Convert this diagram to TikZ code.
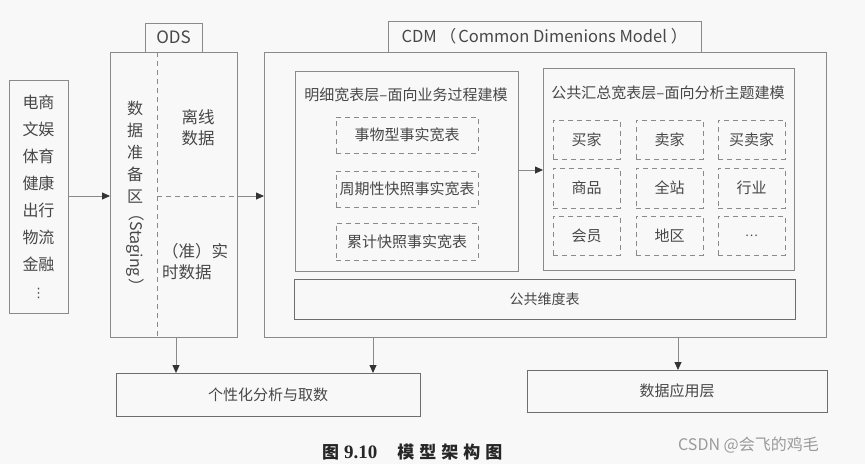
\documentclass[tikz,border=0pt]{standalone}
\usepackage{fontspec}
\setmainfont{Noto Sans CJK SC}
\newfontfamily\numserif{Liberation Serif}
\newfontfamily\dejavu{DejaVu Sans}
\usetikzlibrary{arrows.meta}
\definecolor{linec}{HTML}{8A8A8A}
\definecolor{darkline}{HTML}{6E6E6E}
\definecolor{txtc}{HTML}{474747}
\definecolor{bgc}{HTML}{F8F8F8}
\definecolor{wmc}{HTML}{9A9A9A}
\tikzset{
  box/.style={draw=linec, line width=0.8pt, rectangle, inner sep=0pt, outer sep=0pt, anchor=north west, text=txtc, font=\fontsize{15}{18}\selectfont},
  dbox/.style={box, dash pattern=on 5pt off 4pt},
  lbl/.style={text=txtc, font=\fontsize{15}{18}\selectfont, inner sep=0pt},
  biglbl/.style={text=txtc, font=\fontsize{16}{22}\selectfont, inner sep=0pt, align=center},
  arr/.style={draw=linec, line width=0.8pt, -{Triangle[length=8pt,width=7pt,color=black!80]}},
  divider/.style={draw=linec, line width=0.8pt, dash pattern=on 5pt off 4pt}
}
\begin{document}
\begin{tikzpicture}[x=1pt,y=-1pt]
\fill[bgc] (0,0) rectangle (865,464);
\useasboundingbox (0,0) rectangle (865,464);

% source box
\node[box, minimum width=59pt, minimum height=233pt, align=center, font=\fontsize{16}{27}\selectfont] (src) at (9,80)
  {电商\\文娱\\体育\\健康\\出行\\物流\\金融\\{\dejavu\fontsize{13}{27}\selectfont ⋮}};

% ODS
\node[box, minimum width=57pt, minimum height=29pt, font=\fontsize{17}{20}\selectfont] (odstab) at (145,23) {ODS};
\node[box, minimum width=127pt, minimum height=285pt] (ods) at (110,52) {};
\coordinate (divtop) at (157,52);
\coordinate (divbot) at (157,337);
\coordinate (divmid) at (157,196);
\draw[divider] (divtop) -- (divbot);
\draw[divider] (divmid) -- (divmid -| ods.east);
\node[biglbl] (stackchars) at (135,152) {数\\据\\准\\备\\区};
\node[biglbl, rotate=-90] (staging) at (135,250) {（Staging\hspace{2pt}）};
\node[biglbl, font=\fontsize{16.5}{21}\selectfont] (offline) at (198,128) {离线\\数据};
\node[biglbl, font=\fontsize{16.5}{21}\selectfont, align=left, anchor=west] (realtime) at (162,262) {（准）实\\时数据};

% CDM
\node[box, minimum width=313pt, minimum height=31pt, font=\fontsize{16.5}{20}\selectfont] (cdmtab) at (388,21)
  {CDM\hspace{3pt}（\hspace{2pt}Common Dimenions Model\hspace{4pt}）};
\node[box, minimum width=562pt, minimum height=285pt] (cdm) at (264,52) {};

% detail layer
\node[box, minimum width=223pt, minimum height=200pt] (detail) at (295,71) {};
\node[lbl] (detailtitle) at (406,95) {明细宽表层–面向业务过程建模};
\node[dbox, minimum width=142pt, minimum height=36pt] (f1) at (336,117) {事物型事实宽表};
\node[dbox, minimum width=142pt, minimum height=36pt] (f2) at (336,171) {周期性快照事实宽表};
\node[dbox, minimum width=142pt, minimum height=37pt] (f3) at (336,223) {累计快照事实宽表};

% summary layer
\node[box, minimum width=251pt, minimum height=202pt] (summary) at (543,68) {};
\node[lbl] (summarytitle) at (668,93) {公共汇总宽表层–面向分析主题建模};
\node[dbox, minimum width=67pt, minimum height=39pt] (g11) at (553,120) {买家};
\node[dbox, minimum width=67pt, minimum height=39pt] (g12) at (636,120) {卖家};
\node[dbox, minimum width=67pt, minimum height=39pt] (g13) at (718,120) {买卖家};
\node[dbox, minimum width=67pt, minimum height=40pt] (g21) at (553,168) {商品};
\node[dbox, minimum width=67pt, minimum height=40pt] (g22) at (636,168) {全站};
\node[dbox, minimum width=67pt, minimum height=40pt] (g23) at (718,168) {行业};
\node[dbox, minimum width=67pt, minimum height=39pt] (g31) at (553,216) {会员};
\node[dbox, minimum width=67pt, minimum height=39pt] (g32) at (636,216) {地区};
\node[dbox, minimum width=67pt, minimum height=39pt] (g33) at (718,216) {\fontsize{12}{14}\selectfont …};

% common dimension table
\node[box, draw=darkline, minimum width=501pt, minimum height=40pt, font=\fontsize{14}{17}\selectfont] (dim) at (294,279) {公共维度表};

% bottom boxes
\node[box, draw=darkline, minimum width=304pt, minimum height=43pt] (pers) at (116,373) {个性化分析与取数};
\node[box, draw=darkline, minimum width=300pt, minimum height=42pt] (app) at (527,370) {数据应用层};

% arrows
\coordinate (rowy) at (0,196);
\draw[arr] (src.east |- rowy) -- (ods.west |- rowy);
\draw[arr] (ods.east |- rowy) -- (cdm.west |- rowy);
\coordinate (midy) at (0,170);
\draw[arr] (detail.east |- midy) -- (summary.west |- midy);
\coordinate (c1) at (176,0);
\coordinate (c2) at (373,0);
\coordinate (c3) at (678,0);
\draw[arr] (ods.south -| c1) -- (pers.north -| c1);
\draw[arr] (cdm.south -| c2) -- (pers.north -| c2);
\draw[arr] (cdm.south -| c3) -- (app.north -| c3);

% caption and watermark
\node[inner sep=0pt, anchor=west, text=black!85, font=\fontsize{17}{20}\selectfont\bfseries] (caption) at (322,452)
  {图\hspace{5pt}{\numserif\fontsize{19}{20}\selectfont 9.10}\hspace{20pt}模\hspace{5pt}型\hspace{5pt}架\hspace{5pt}构\hspace{5pt}图};
\node[inner sep=0pt, anchor=west, text=wmc, font=\fontsize{16}{19}\selectfont] (wm) at (678,445) {CSDN @会飞的鸡毛};
\end{tikzpicture}
\end{document}
